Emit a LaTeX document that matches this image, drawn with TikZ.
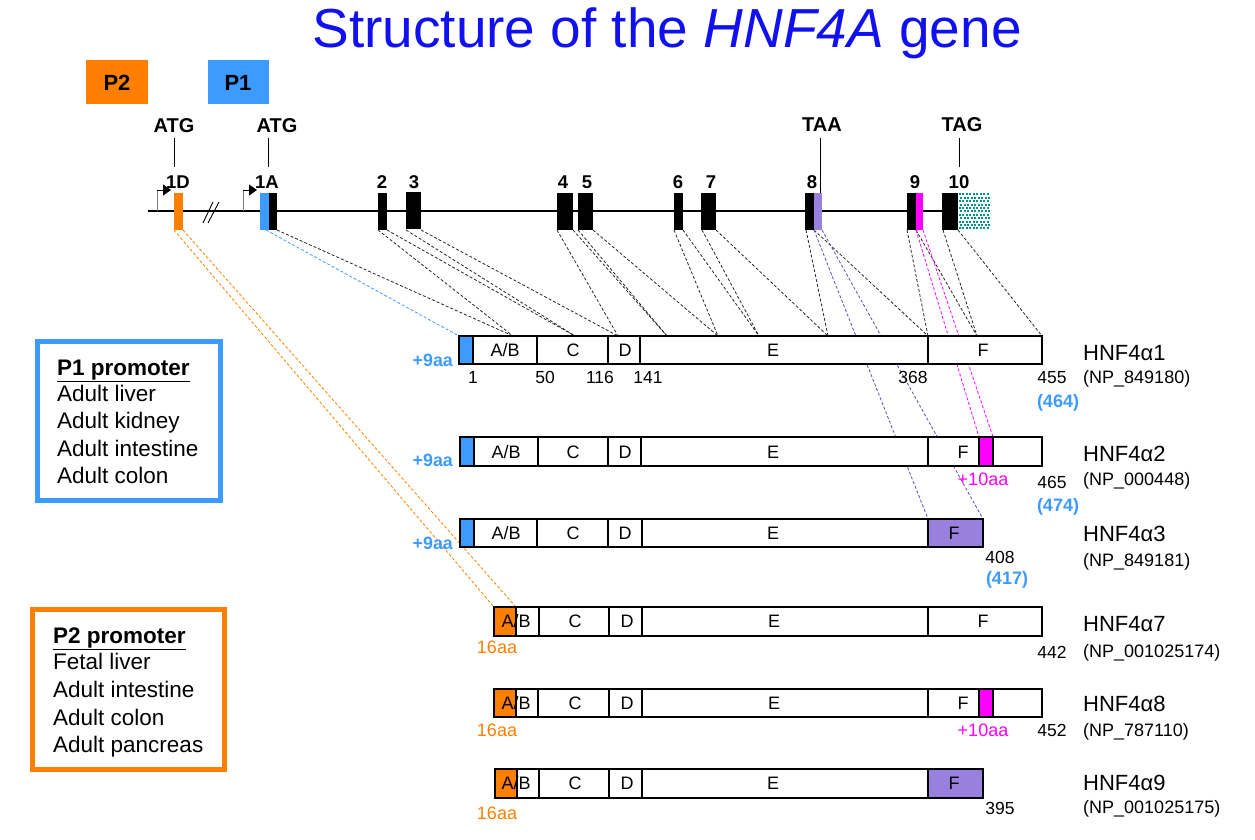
\documentclass[tikz,border=0pt]{standalone}
\usepackage{fontspec}
\setmainfont{Liberation Sans}
\usetikzlibrary{arrows.meta}
\definecolor{orng}{RGB}{255,128,0}
\definecolor{pblue}{RGB}{61,155,255}
\definecolor{purp}{RGB}{153,128,222}
\definecolor{mag}{RGB}{255,0,255}
\definecolor{ttl}{RGB}{16,16,240}
\definecolor{tealc}{RGB}{0,145,145}
\definecolor{dpurp}{RGB}{80,80,190}
\newcommand\fsz[1]{\fontsize{#1}{#1}\selectfont}
\begin{document}
\begin{tikzpicture}[x=1pt,y=-1pt,
  txt/.style={inner sep=0pt, anchor=base},
  conn/.style={dash pattern=on 3pt off 2pt, line width=0.8pt, black!85},
  pbox/.style={draw=black, line width=1.2pt},
  exon/.style={fill=black},
  lbl/.style={txt, font=\fsz{18}},
  num/.style={txt, font=\fsz{17.5}},
  iso/.style={txt, anchor=base west, font=\fsz{22}},
  np/.style={txt, anchor=base west, font=\fsz{18}},
  exnum/.style={txt, font=\bfseries\fsz{18.5}},
  lst/.style={txt, anchor=base west, font=\fsz{22.5}},
]
\useasboundingbox (0,0) rectangle (1255,839);

% ---------- title ----------
\node[txt, font=\fsz{55}, text=ttl] (title) at (667,47) {Structure of the \textit{HNF4A} gene};

% ---------- promoter tags ----------
\fill[orng] (86,60) rectangle (148,104);
\node[txt, font=\bfseries\fsz{22}] (p2) at (117,90) {P2};
\fill[pblue] (208,60) rectangle (269,104);
\node[txt, font=\bfseries\fsz{22}] (p1) at (238,90) {P1};

% ---------- coordinates ----------
\foreach \n/\x in {a/277,b1A/266,d1/174,d2/183,l2/378,r2/387,l3/406,r3/421,l4/557,r4/573,l5/578,r5/593,
  l6/674,r6/683,l7/702,r7/716,l8/806,m8/814,r8/822,l9/907,m9/916,r9/923,l10/943,r10/958}
  {\coordinate (e\n) at (\x,230);}
\foreach \n/\x in {b/459,1/513,2/575,3/618,4/667,5/718,6/759,7/828,8/928,9/977,10/1042}
  {\coordinate (p\n) at (\x,336);}
\coordinate (q1) at (928,519); \coordinate (q2) at (983,519);
\coordinate (m1) at (979,437); \coordinate (m2) at (993,437);
\coordinate (o1) at (494,607); \coordinate (o2) at (516,607);

% ---------- connectors ----------
\draw[conn] (ea) -- (p1);  \draw[conn] (el2) -- (p1);
\draw[conn] (er2) -- (p2); \draw[conn] (el3) -- (p2);
\draw[conn] (er3) -- (p3); \draw[conn] (el4) -- (p3);
\draw[conn] (er4) -- (p4); \draw[conn] (el5) -- (p4);
\draw[conn] (er5) -- (p5); \draw[conn] (el6) -- (p5);
\draw[conn] (er6) -- (p6); \draw[conn] (el7) -- (p6);
\draw[conn] (er7) -- (p7); \draw[conn] (el8) -- (p7);
\draw[conn] (em8) -- (p8); \draw[conn] (el9) -- (p8);
\draw[conn] (em9) -- (p9); \draw[conn] (el10) -- (p9);
\draw[conn] (er10) -- (p10);
\draw[conn, pblue] (eb1A) -- (pb);
\draw[conn, dpurp] (em8) -- (q1); \draw[conn, dpurp] (er8) -- (q2);
\draw[conn, mag] (em9) -- (m1); \draw[conn, mag] (er9) -- (m2);
\draw[conn, orng] (ed1) -- (o1); \draw[conn, orng] (ed2) -- (o2);

% ---------- gene ----------
\draw[line width=1.4pt] (148,211) coordinate (gs) -- (990,211) coordinate (ge);
\draw[line width=0.9pt] (203,223) -- (213,202);
\draw[line width=0.9pt] (208,223) -- (219,202);
% promoter arrows
\draw[gray, line width=1pt] (157,211) -- (157,190);
\draw[line width=1pt, -{Triangle[length=8pt,width=11pt]}] (157,190) -- (171,190);
\draw[gray, line width=1pt] (243,211) -- (243,190);
\draw[line width=1pt, -{Triangle[length=8pt,width=11pt]}] (243,190) -- (257,190);
% exons
\fill[orng] (174,193) rectangle (183,230);
\fill[pblue] (260,193) rectangle (269,230);
\fill[exon] (269,193) rectangle (277,230);
\fill[exon] (378,193) rectangle (387,230);
\fill[exon] (406,192) rectangle (421,229);
\fill[exon] (557,193) rectangle (573,230);
\fill[exon] (578,193) rectangle (593,230);
\fill[exon] (674,193) rectangle (683,230);
\fill[exon] (701,193) rectangle (716,230);
\fill[exon] (805,193) rectangle (814,230);
\fill[purp] (814,193) rectangle (822,230);
\fill[exon] (907,193) rectangle (916,230);
\fill[mag] (916,193) rectangle (923,230);
\fill[exon] (942,193) rectangle (958,230);
\fill[white] (958,193) rectangle (989,230);
\foreach \i in {0,...,8}{\foreach \j in {0,...,10}{
  \fill[tealc] ({958.6+3.5*\i+1.75*mod(\j,2)},{193.4+3.4*\j}) rectangle +(1.9,1.9);}}
% exon labels
\foreach \n/\x/\t in {x1D/178/1D,x1A/267/1A,x2/382/2,x3/414/3,x4/563/4,x5/587/5,x6/678/6,x7/711/7,x8/812/8,x9/915/9,x10/959/10}
  {\node[exnum] (\n) at (\x,188.6) {\t};}
% codons
\node[txt, font=\bfseries\fsz{20}] (atg1) at (174,132) {ATG};
\draw[line width=1pt] (174,138) -- (174,167);
\node[txt, font=\bfseries\fsz{20}] (atg2) at (277,132) {ATG};
\draw[line width=1pt] (268,138) -- (268,167);
\node[txt, font=\bfseries\fsz{20}] (taa) at (822,131) {TAA};
\draw[line width=1pt] (820,138) -- (820,193);
\node[txt, font=\bfseries\fsz{20}] (tag) at (962,131) {TAG};
\draw[line width=1pt] (959,138) -- (959,167);

% ---------- proteins ----------
% row 1
\filldraw[pbox, fill=white] (459,336) rectangle (1042,364);
\filldraw[pbox, fill=pblue] (459,336) rectangle (473,364);
\foreach \x in {537,608,640,928} \draw[pbox] (\x,336) -- (\x,364);
% row 2
\filldraw[pbox, fill=white] (460,437) rectangle (1042,466);
\filldraw[pbox, fill=pblue] (460,437) rectangle (474,466);
\foreach \x in {538,608,641,928} \draw[pbox] (\x,437) -- (\x,466);
\filldraw[pbox, fill=mag] (979,437) rectangle (993,466);
% row 3
\filldraw[pbox, fill=white] (460,519) rectangle (983,547);
\filldraw[pbox, fill=pblue] (460,519) rectangle (474,547);
\foreach \x in {537,608,642} \draw[pbox] (\x,519) -- (\x,547);
\filldraw[pbox, fill=purp] (928,519) rectangle (983,547);
% row 4
\filldraw[pbox, fill=white] (494,607) rectangle (1042,636);
\filldraw[pbox, fill=orng] (494,607) rectangle (516,636);
\foreach \x in {539,609,642,928} \draw[pbox] (\x,607) -- (\x,636);
% row 5
\filldraw[pbox, fill=white] (494,689) rectangle (1042,717);
\filldraw[pbox, fill=orng] (494,689) rectangle (516,717);
\foreach \x in {538,609,642,928} \draw[pbox] (\x,689) -- (\x,717);
\filldraw[pbox, fill=mag] (979,689) rectangle (993,717);
% row 6
\filldraw[pbox, fill=white] (495,769) rectangle (983,798);
\filldraw[pbox, fill=orng] (495,769) rectangle (517,798);
\foreach \x in {539,609,642} \draw[pbox] (\x,769) -- (\x,798);
\filldraw[pbox, fill=purp] (928,769) rectangle (983,798);

% domain labels
\foreach \r/\y/\ab/\c/\d/\e/\f in {1/356.4/505/573/625/773/983, 2/458/506/573/625/773/963, 3/539.4/506/573/625/773/954,
   4/627.9/516/575/627/774/983, 5/709.4/516/575/627/774/963, 6/789.9/516/575/627/773/954}
{
  \node[lbl] (ab\r) at (\ab,\y) {A/B};
  \node[lbl] (c\r) at (\c,\y) {C};
  \node[lbl] (d\r) at (\d,\y) {D};
  \node[lbl] (e\r) at (\e,\y) {E};
  \node[lbl] (f\r) at (\f,\y) {F};
}

% left-side annotations
\foreach \r/\y in {1/366.4,2/466.4,3/549.4}
  {\node[txt, anchor=base east, font=\bfseries\fsz{17.8}, text=pblue] (nine\r) at (453,\y) {+9aa};}
\foreach \r/\y in {4/653.4,5/736.4,6/819.4}
  {\node[lbl, text=orng] (sixteen\r) at (497,\y) {16aa};}
\node[lbl, text=mag] (ten2) at (983,485.4) {+10aa};
\node[lbl, text=mag] (ten5) at (983,736.4) {+10aa};

% position numbers
\node[num] (n1) at (473,383.3) {1};
\node[num] (n50) at (545,383.3) {50};
\node[num] (n116) at (600,383.3) {116};
\node[num] (n141) at (648,383.3) {141};
\node[num] (n368) at (913,383.3) {368};
\node[num] (n455) at (1052,383.3) {455};
\node[txt, font=\bfseries\fsz{18}, text=pblue] (n464) at (1058,407.6) {(464)};
\node[num] (n465) at (1052,488.3) {465};
\node[txt, font=\bfseries\fsz{18}, text=pblue] (n474) at (1058,511.5) {(474)};
\node[num] (n408) at (1000,563.3) {408};
\node[txt, font=\bfseries\fsz{18}, text=pblue] (n417) at (1007,584.5) {(417)};
\node[num] (n442) at (1052,658.3) {442};
\node[num] (n452) at (1052,736.3) {452};
\node[num] (n395) at (1000,814.3) {395};

% isoform names
\foreach \k/\a/\b/\np in {1/360/383.5/849180, 2/461/485.5/000448, 3/541/566.5/849181,
   7/631/657.5/001025174, 8/711/736.5/787110, 9/790/813.5/001025175}
{
  \node[iso] (iso\k) at (1083,\a) {HNF4α\k};
  \node[np] (np\k) at (1083,\b) {(NP\_\np)};
}

% ---------- promoter boxes ----------
\draw[pblue, line width=5pt] (37.5,341.5) rectangle (220.5,500.5);
\node[lst, font=\bfseries\fsz{22.5}] (h1) at (57,375) {\underline{P1 promoter}};
\node[lst] (a1) at (57,401) {Adult liver};
\node[lst] (a2) at (57,428) {Adult kidney};
\node[lst] (a3) at (57,456) {Adult intestine};
\node[lst] (a4) at (57,483) {Adult colon};

\draw[orng, line width=5pt] (32.5,609.5) rectangle (224.5,769.5);
\node[lst, font=\bfseries\fsz{22.5}] (h2) at (53,643) {\underline{P2 promoter}};
\node[lst] (b1) at (53,669) {Fetal liver};
\node[lst] (b2) at (53,697) {Adult intestine};
\node[lst] (b3) at (53,725) {Adult colon};
\node[lst] (b4) at (53,752) {Adult pancreas};
\end{tikzpicture}
\end{document}
